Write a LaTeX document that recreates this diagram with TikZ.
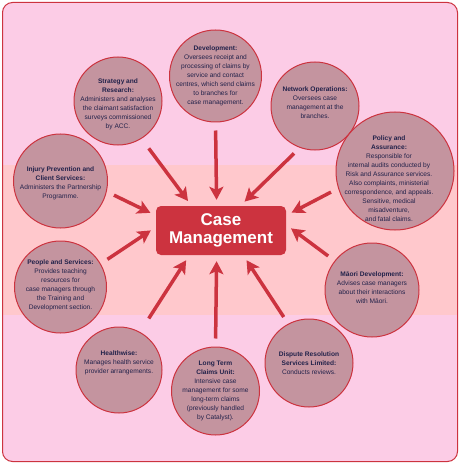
\documentclass[tikz,border=0pt]{standalone}
\usepackage{fontspec}
\setmainfont{Liberation Sans}
\usetikzlibrary{arrows.meta}

\definecolor{bgpink}{HTML}{FCCCE6}
\definecolor{bgband}{HTML}{FFC8CC}
\definecolor{deptfill}{HTML}{C4949F}
\definecolor{cmred}{HTML}{CC333F}
\definecolor{txtblue}{HTML}{22224A}

\begin{document}
\begin{tikzpicture}[x=1pt, y=-1pt,
    every node/.style={font=\fontsize{6.6}{9}\selectfont, text=txtblue},
    dept/.style={circle, draw=cmred, line width=1pt, fill=deptfill, inner sep=0pt, minimum size=#1},
    info/.style={align=center, inner sep=0pt},
    hub/.style={rectangle, rounded corners=5pt, fill=cmred, text=white, align=center,
        font=\fontsize{17}{17.5}\selectfont\bfseries, minimum width=130pt, minimum height=49pt},
    feed/.style={draw=cmred, line width=3.5pt, -{Stealth[length=13pt, width=14pt, inset=3pt]},
        shorten <=8pt, shorten >=6pt}]
    \useasboundingbox (0,0) rectangle (460,465);

    % Background and frame
    \fill[bgpink, rounded corners=10pt] (2.5,2.5) rectangle (457.5,461.5);
    \fill[bgband] (3,165) rectangle (457,315);
    \draw[cmred, line width=1pt, rounded corners=10pt] (2.5,2.5) rectangle (457.5,461.5);

    % Centre box
    \node[hub] (cm) at (221,230.5) {Case\\Management};

    % Units round the centre
    \node[dept=92pt] (dev) at (215.5,76) {};
    \node[info] (dev-txt) at (dev) {\textbf{Development:}\\Oversees receipt and\\processing of claims by\\service and contact\\centres, which send claims\\to branches for\\case management.};

    \node[dept=88pt] (strat) at (118,101) {};
    \node[info, yshift=-3pt] (strat-txt) at (strat) {\textbf{Strategy and}\\\textbf{Research:}\\Administers and analyses\\the claimant satisfaction\\surveys commissioned\\by ACC.};

    \node[dept=88pt] (net) at (315,106) {};
    \node[info, yshift=3pt] (net-txt) at (net) {\textbf{Network Operations:}\\Oversees case\\management at the\\branches.};

    \node[dept=118pt] (pol) at (395,171) {};
    \node[info, xshift=-6pt, yshift=-8pt] (pol-txt) at (pol) {\textbf{Policy and}\\\textbf{Assurance:}\\Responsible for\\internal audits conducted by\\Risk and Assurance services.\\Also complaints, ministerial\\correspondence, and appeals.\\Sensitive, medical\\misadventure,\\and fatal claims.};

    \node[dept=94pt] (inj) at (60.5,181) {};
    \node[info, yshift=-2pt] (inj-txt) at (inj) {\textbf{Injury Prevention and}\\\textbf{Client Services:}\\Administers the Partnership\\Programme.};

    \node[dept=92pt] (ppl) at (60.5,287) {};
    \node[info, yshift=2pt] (ppl-txt) at (ppl) {\textbf{People and Services:}\\Provides teaching\\resources for\\case managers through\\the Training and\\Development section.};

    \node[dept=94pt] (mao) at (372,290) {};
    \node[info, yshift=2pt] (mao-txt) at (mao) {\textbf{Māori Development:}\\Advises case managers\\about their interactions\\with Māori.};

    \node[dept=86pt] (hw) at (119,370) {};
    \node[info, yshift=7pt] (hw-txt) at (hw) {\textbf{Healthwise:}\\Manages health service\\provider arrangements.};

    \node[dept=88pt] (ltc) at (215.5,391) {};
    \node[info] (ltc-txt) at (ltc) {\textbf{Long Term}\\\textbf{Claims Unit:}\\Intensive case\\management for some\\long-term claims\\(previously handled\\by Catalyst).};

    \node[dept=88pt] (dsp) at (309,363) {};
    \node[info] (dsp-txt) at (dsp) {\textbf{Dispute Resolution}\\\textbf{Services Limited:}\\Conducts reviews.};

    % Arrows into the centre
    \draw[feed] (dev.-90) -- (cm.100);
    \draw[feed, shorten <=12pt] (strat.-58) -- (cm.140);
    \draw[feed] (net.-110) -- (cm.52);
    \draw[feed] (pol.-163) -- (cm.13);
    \draw[feed] (inj.-13) -- (cm.167);
    \draw[feed] (ppl.30) -- (cm.177);
    \draw[feed] (mao.142) -- (cm.5);
    \draw[feed, shorten <=16pt] (hw.61) -- (cm.-142);
    \draw[feed] (ltc.90) -- (cm.-100);
    \draw[feed] (dsp.118) -- (cm.-48);
\end{tikzpicture}
\end{document}
